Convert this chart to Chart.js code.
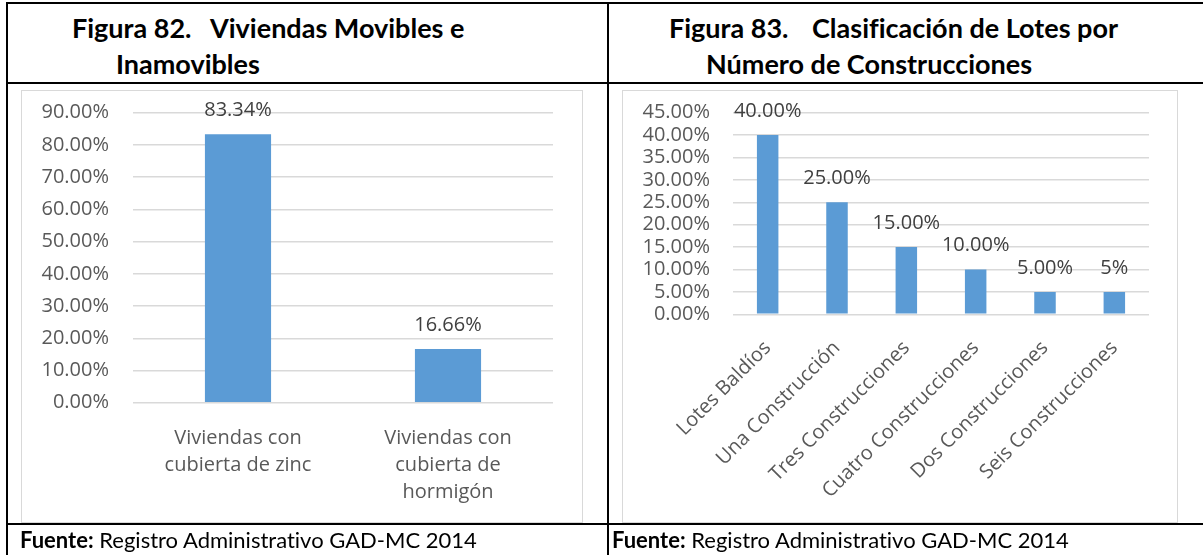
<!DOCTYPE html>
<html>
<head>
<meta charset="utf-8">
<script src="https://cdn.jsdelivr.net/npm/chart.js@4.4.1/dist/chart.umd.min.js"></script>
<style>
  html, body { margin: 0; padding: 0; background: #fff; }
  #page { position: relative; width: 1203px; height: 555px; overflow: hidden; font-family: Lato, "Open Sans", sans-serif; color: #000; font-variant-ligatures: none; }
  .rule { position: absolute; background: #000; }
  .frame { position: absolute; border: 1.5px solid #d9d9d9; box-sizing: border-box; pointer-events: none; }
  .plot { position: absolute; }
  .ttl { position: absolute; font-weight: 700; font-size: 27px; line-height: 1; white-space: pre; }
  .src { position: absolute; font-size: 22px; line-height: 1; white-space: pre; }
  .src b { font-weight: 700; }
  canvas { display: block; }
</style>
</head>
<body>
<div id="page">
  <!-- table rules -->
  <div class="rule" style="left:6px;top:2px;width:1197px;height:2px"></div>
  <div class="rule" style="left:6px;top:82px;width:1197px;height:2px"></div>
  <div class="rule" style="left:6px;top:523px;width:1197px;height:2px"></div>
  <div class="rule" style="left:6px;top:2px;width:2px;height:553px"></div>
  <div class="rule" style="left:607px;top:2px;width:2px;height:553px"></div>

  <!-- captions -->
  <div class="ttl" style="left:72px;top:14px">Figura 82.</div>
  <div class="ttl" style="left:210px;top:14px">Viviendas Movibles e</div>
  <div class="ttl" style="left:116px;top:50px">Inamovibles</div>
  <div class="ttl" style="left:669px;top:14px">Figura 83.</div>
  <div class="ttl" style="left:812px;top:14px">Clasificación de Lotes por</div>
  <div class="ttl" style="left:706px;top:50px">Número de Construcciones</div>

  <!-- charts -->
  <div class="plot" style="left:21px;top:90px"><canvas id="c1" width="562" height="433"></canvas></div>
  <div class="frame" style="left:21px;top:90px;width:562px;height:433px"></div>
  <div class="plot" style="left:622px;top:90px"><canvas id="c2" width="556" height="433"></canvas></div>
  <div class="frame" style="left:622px;top:90px;width:556px;height:433px"></div>

  <!-- sources -->
  <div class="src" style="left:20px;top:529px"><b>Fuente:</b> Registro Administrativo GAD-MC 2014</div>
  <div class="src" style="left:612px;top:529px"><b>Fuente:</b> Registro Administrativo GAD-MC 2014</div>
</div>

<script>
// Figura 82 data
const viviendaCats = [["Viviendas con", "cubierta de zinc"], ["Viviendas con", "cubierta de", "hormigón"]];
const viviendaVals = [83.34, 16.66];
const viviendaTags = ["83.34%", "16.66%"];
const viviendaTicks = { max: 90, step: 10 };

// Figura 83 data
const loteCats = ["Lotes Baldíos", "Una Construcción", "Tres Construcciones", "Cuatro Construcciones", "Dos Construcciones", "Seis Construcciones"];
const loteVals = [40, 25, 15, 10, 5, 5];
const loteTags = ["40.00%", "25.00%", "15.00%", "10.00%", "5.00%", "5%"];
const loteTicks = { max: 45, step: 5 };

const FONT = "'Open Sans', sans-serif";
const BAR = "#5b9bd5";
const GRID = "#d9d9d9";
const TICK_SIZE = 20;

// value tags written above each bar
const barTags = {
  id: "barTags",
  afterDatasetsDraw(chart, args, opts) {
    const ctx = chart.ctx;
    const meta = chart.getDatasetMeta(0);
    ctx.save();
    ctx.font = "20px " + FONT;
    ctx.fillStyle = "#404040";
    ctx.textAlign = "center";
    ctx.textBaseline = "middle";
    meta.data.forEach((el, i) => {
      ctx.fillText(opts.tags[i], el.x, el.y - opts.gap);
    });
    ctx.restore();
  }
};

// axes keep the exact size given; their label overhang must not push the plot area
function fixedSize(prop, value) {
  return s => {
    s[prop] = value;
    s.paddingTop = 0; s.paddingBottom = 0;
    s.paddingLeft = 0; s.paddingRight = 0;
  };
}

function makeChart(id, cats, vals, tags, tk, box) {
  const canvas = document.getElementById(id);
  const W = canvas.width, H = canvas.height;
  return new Chart(canvas, {
    type: "bar",
    data: {
      labels: cats,
      datasets: [{
        data: vals,
        backgroundColor: BAR,
        borderWidth: 0,
        categoryPercentage: 1,
        barPercentage: box.barPct
      }]
    },
    options: {
      responsive: false,
      animation: false,
      events: [],
      layout: { autoPadding: false, padding: { left: 0, right: W - box.right, top: box.top, bottom: 0 } },
      plugins: {
        legend: { display: false },
        tooltip: { enabled: false },
        barTags: { tags: tags, gap: 24 }
      },
      scales: {
        x: {
          grid: { display: false, drawTicks: false },
          border: { display: false },
          ticks: {
            color: "#595959",
            font: { family: FONT, size: TICK_SIZE, lineHeight: box.xLine },
            padding: box.xPad,
            autoSkip: false,
            minRotation: box.rot,
            maxRotation: box.rot
          },
          afterFit: fixedSize("height", H - box.bottom)
        },
        y: {
          min: 0,
          max: tk.max,
          grid: { color: GRID, lineWidth: 1.5, drawTicks: false },
          border: { display: false },
          ticks: {
            stepSize: tk.step,
            autoSkip: false,
            color: "#595959",
            font: { family: FONT, size: TICK_SIZE, lineHeight: 1 },
            padding: box.yPad,
            callback: v => v.toFixed(2) + "%"
          },
          afterFit: fixedSize("width", box.left)
        }
      }
    },
    plugins: [barTags]
  });
}

makeChart("c1", viviendaCats, viviendaVals, viviendaTags, viviendaTicks,
  { left: 112, right: 532, top: 22.7, bottom: 312.7, barPct: 0.315, xPad: 22, xLine: 1.35, rot: 0, yPad: 24 });
makeChart("c2", loteCats, loteVals, loteTags, loteTicks,
  { left: 111, right: 527, top: 22.7, bottom: 224.3, barPct: 0.31, xPad: 22, xLine: 1.2, rot: 45, yPad: 23 });
</script>
</body>
</html>
